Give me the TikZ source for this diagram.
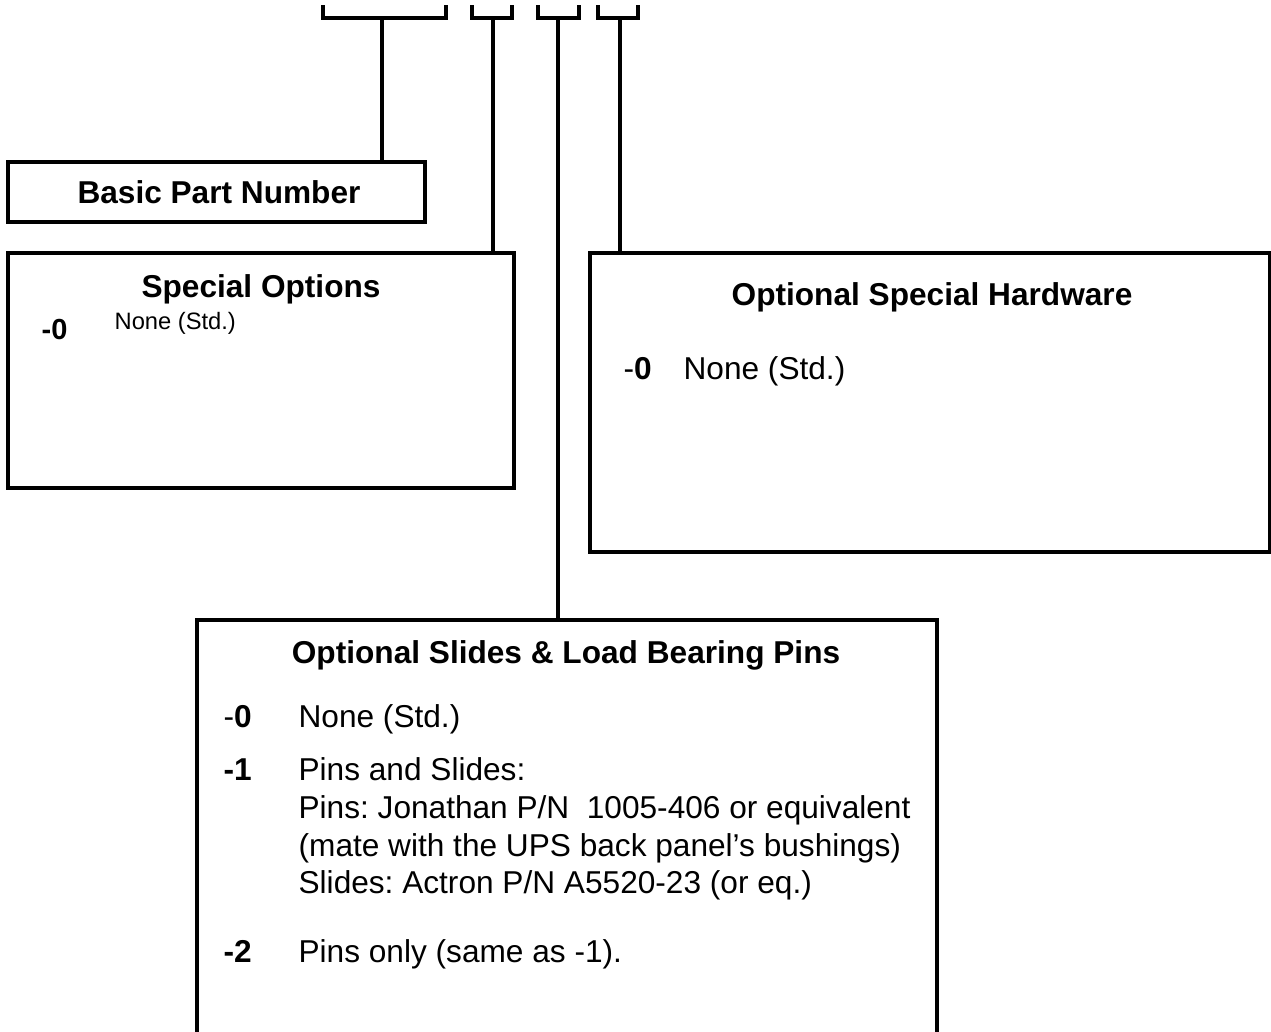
\documentclass[tikz,border=0pt]{standalone}
\usepackage{fontspec}
\setmainfont{Liberation Sans}
\usetikzlibrary{positioning}

\begin{document}
\frenchspacing
\begin{tikzpicture}[x=0.02cm, y=-0.02cm, line width=0.065cm,
	box/.style={draw, rectangle, inner sep=0pt},
	title/.style={font=\fontsize{18}{22}\selectfont\bfseries, anchor=base},
	code/.style={font=\fontsize{18}{22}\selectfont, anchor=base west, inner sep=0pt},
	item/.style={font=\fontsize{18}{22}\selectfont, anchor=base west, inner sep=0pt},
	smallitem/.style={font=\fontsize{13.5}{16}\selectfont, anchor=base west, inner sep=0pt}]
		\useasboundingbox (0,0) rectangle (1271,1031);
		\clip (0,0) rectangle (1271,1031);

		% Boxes
		\node[box, minimum width=8.34cm, minimum height=1.2cm] (bpn) at (216.5,192) {};
		\node[box, minimum width=10.12cm, minimum height=4.7cm] (spo) at (261,370.5) {};
		\node[box, minimum width=13.6cm, minimum height=5.98cm] (osh) at (930,402.5) {};
		\node[box, minimum width=14.8cm, minimum height=9.6cm] (slp) at (567,860) {};

		% Brackets of the part number
		\draw (323,5) -- (323,18) -- (446,18) -- (446,5);
		\draw (472,5) -- (472,18) -- (512,18) -- (512,5);
		\draw (538,5) -- (538,18) -- (579,18) -- (579,5);
		\draw (598,5) -- (598,18) -- (638,18) -- (638,5);
		\coordinate (b1) at (382,18);
		\coordinate (b2) at (493,18);
		\coordinate (b3) at (558,18);
		\coordinate (b4) at (620,18);

		% Leaders
		\draw (b1) -- (b1 |- bpn.north);
		\draw (b2) -- (b2 |- spo.north);
		\draw (b3) -- (b3 |- slp.north);
		\draw (b4) -- (b4 |- osh.north);

		% Basic part number
		\node[title] (bpnt) at (219,203) {Basic Part Number};

		% Special options
		\node[title] (spot) at (261,297) {Special Options};
		\node[code, font=\fontsize{16.5}{20}\selectfont\bfseries] (spo0) at (40,339) {-0};
		\node[smallitem] (spo0t) at (113,329) {None (Std.)};

		% Optional special hardware
		\node[title] (osht) at (932,305) {Optional Special Hardware};
		\node[code] (osh0) at (622,379) {-\textbf{0}};
		\node[item] (osh0t) at (682,379) {None (Std.)};

		% Optional slides and pins
		\node[title] (slpt) at (566,663) {Optional Slides \& Load Bearing Pins};
		\node[code] (slp0) at (222,727) {-\textbf{0}};
		\node[item] (slp0t) at (297,727) {None (Std.)};
		\node[code] (slp1) at (222,780) {\textbf{-1}};
		\node[item] (slp1a) at (297,780) {Pins and Slides:};
		\node[item] (slp1b) at (297,818) {Pins: Jonathan P/N\ \ 1005-406 or equivalent};
		\node[item] (slp1c) at (297,856) {(mate with the UPS back panel’s bushings)};
		\node[item] (slp1d) at (297,893) {Slides: Actron P/N A5520-23 (or eq.)};
		\node[code] (slp2) at (222,962) {\textbf{-2}};
		\node[item] (slp2t) at (297,962) {Pins only (same as -1).};
	\end{tikzpicture}
\end{document}
